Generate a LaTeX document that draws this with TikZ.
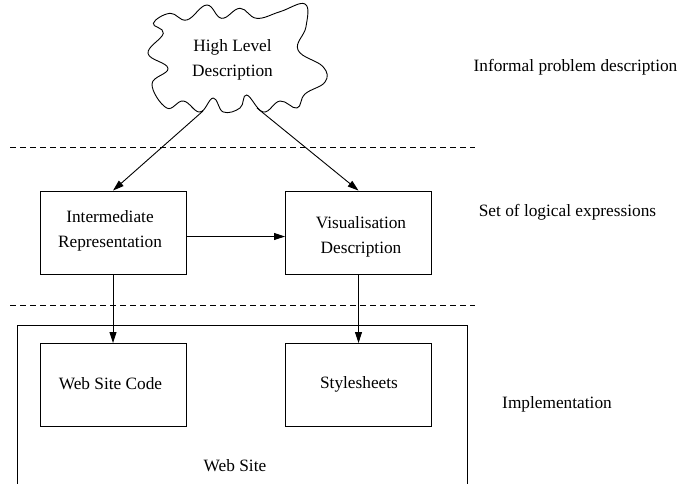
\documentclass[tikz,border=0pt]{standalone}
\usepackage{fontspec}
\setmainfont{Liberation Serif}
\usetikzlibrary{arrows.meta}
\begin{document}
\begin{tikzpicture}[x=1pt,y=-1pt,
  every node/.style={font=\fontsize{17.3}{24.5}\selectfont, inner sep=0pt},
  line/.style={line width=0.9pt},
  arr/.style={line width=0.9pt,-{Triangle[length=11pt,width=7pt]}},
  boxnode/.style={draw,line width=0.9pt,minimum width=146pt,minimum height=83pt},
  sep/.style={line width=0.8pt,dash pattern=on 6pt off 4pt},
  txt/.style={align=center}]
\useasboundingbox (0,0) rectangle (679,483);
\clip (0,0) rectangle (679,483);
% cloud
\draw[line] plot[smooth cycle, tension=0.7] coordinates {
 (153.3,23.3) (170,13.3) (186.7,20) (206.7,5) (221.7,18.3) (240,8.3)
 (256.7,18.3) (280,11.7) (305,4) (306,26.7) (298,50) (323,66.7)
 (325,82) (305,94) (297,108) (280,101) (263.3,112) (246.7,95)
 (240,108) (223.3,112) (213.3,98) (200,112) (183.3,101) (166.7,108)
 (152,84) (168,68.3) (148,53.3) (163.3,33.3)};
\node[txt] (high) at (232.5,60) {High Level\\Description};
\coordinate (cl) at (203,111);
\coordinate (cr) at (257,108);
% separators
\coordinate (s1a) at (10,147); \coordinate (s1b) at (475,147);
\coordinate (s2a) at (10,305); \coordinate (s2b) at (475,305);
\draw[sep] (s1a) -- (s1b);
\draw[sep] (s2a) -- (s2b);
% boxes
\node[boxnode] (ir) at (113,232.5) {};
\node[boxnode] (vd) at (358.5,232.5) {};
\node[boxnode] (wsc) at (113,385) {};
\node[boxnode] (ss) at (358.5,385) {};
\node[draw,line width=0.9pt,minimum width=450pt,minimum height=200pt,anchor=north] (site) at (242,325) {};
\node[txt] (irt) at (110,231) {Intermediate\\Representation};
\node[txt] (vdt) at (361,237) {Visualisation\\Description};
\node (wsct) at (110.5,384) {Web Site Code};
\node (sst) at (359,384) {Stylesheets};
\node (sitet) at (235,466) {Web Site};
% right labels
\node (l1) at (575.5,67) {Informal problem description};
\node (l2) at (567.5,212) {Set of logical expressions};
\node (l3) at (557,404) {Implementation};
% arrows
\draw[arr] (cl) -- (ir.north);
\draw[arr] (cr) -- (vd.north);
\draw[arr] (ir.east) ++(0,4) coordinate (ire) -- (ire -| vd.west);
\draw[arr] (ir.south) -- (wsc.north);
\draw[arr] (vd.south) -- (ss.north);
\end{tikzpicture}
\end{document}
